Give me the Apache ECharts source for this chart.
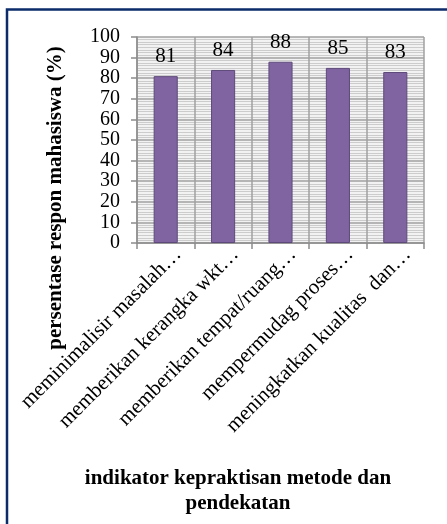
<!DOCTYPE html>
<html>
<head>
<meta charset="utf-8">
<script src="https://cdn.jsdelivr.net/npm/echarts@6/dist/echarts.min.js"></script>
<style>
  html, body { margin: 0; padding: 0; background: #fff; }
  #chart { width: 447px; height: 524px; }
</style>
</head>
<body>
<div id="chart"></div>
<script>
const categories = [
  'meminimalisir masalah…',
  'memberikan kerangka wkt…',
  'memberikan tempat/ruang…',
  'mempermudag proses…',
  'meningkatkan kualitas  dan…'
];
const values = [81, 84, 88, 85, 83];
const yTitle = 'persentase respon mahasiswa (%)';
const xTitle = 'indikator kepraktisan metode dan\npendekatan';

const serif = '"Liberation Serif", "Times New Roman", serif';
const chart = echarts.init(document.getElementById('chart'));

chart.setOption({
  animation: false,
  textStyle: { fontFamily: serif },
  title: {
    text: xTitle,
    left: 233,
    top: 461,
    textAlign: 'center',
    textStyle: { fontFamily: serif, fontSize: 21, fontWeight: 'bold', color: '#000', lineHeight: 25 }
  },
  graphic: [
    {
      type: 'polyline',
      shape: { points: [[7, 524], [7, 9.5], [447, 9.5]] },
      style: { stroke: '#0b2b6b', lineWidth: 2.5, fill: null }
    },
    {
      type: 'text',
      x: 56,
      y: 198,
      rotation: Math.PI / 2,
      style: {
        text: yTitle,
        font: 'bold 21px ' + serif,
        fill: '#000',
        align: 'center',
        verticalAlign: 'middle'
      }
    }
  ],
  grid: { left: 137, right: 23, top: 37, bottom: 281, backgroundColor: '#f2f2f2', show: true, borderWidth: 0 },
  xAxis: {
    type: 'category',
    data: categories,
    axisLine: { lineStyle: { color: '#8c8c8c', width: 1.5 } },
    axisTick: { show: true, length: 6, lineStyle: { color: '#8c8c8c', width: 1.5 } },
    splitLine: { show: true, lineStyle: { color: '#a0a0a0', width: 1.5 } },
    axisLabel: {
      rotate: 45,
      interval: 0,
      color: '#000',
      fontFamily: serif,
      fontSize: 21,
      margin: -4,
      verticalAlign: 'top',
      padding: [7, 0, 0, 0]
    }
  },
  yAxis: {
    type: 'value',
    min: 0,
    max: 100,
    interval: 10,
    axisLine: { show: true, lineStyle: { color: '#8c8c8c', width: 1.5 } },
    axisTick: { show: true, length: 6, lineStyle: { color: '#8c8c8c', width: 1.5 } },
    splitLine: { show: true, lineStyle: { color: '#a0a0a0', width: 1.5 } },
    minorTick: { show: false, splitNumber: 8 },
    minorSplitLine: { show: true, lineStyle: { color: '#cccccc', width: 1 } },
    axisLabel: {
      color: '#000',
      fontFamily: serif,
      fontSize: 20,
      lineHeight: 18,
      margin: 17,
      showMinLabel: true,
      showMaxLabel: true,
      hideOverlap: false
    }
  },
  series: [{
    type: 'bar',
    data: values,
    barWidth: '42%',
    itemStyle: { color: '#8064a2', borderColor: '#5e4a7a', borderWidth: 1 },
    label: {
      show: true,
      position: 'top',
      distance: 9,
      color: '#000',
      fontFamily: serif,
      fontSize: 21
    }
  }]
});
</script>
</body>
</html>
